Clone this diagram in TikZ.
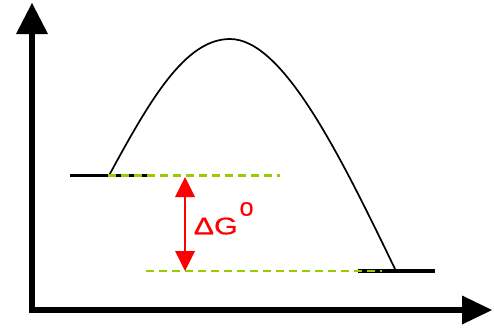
\documentclass[tikz,border=0pt]{standalone}
\usepackage{graphicx}
\usepackage{fontspec}
\setmainfont{Liberation Sans}
\newfontfamily\dglabelfont[FakeBold=0.6]{Liberation Sans}
\definecolor{dashgreen}{RGB}{153,204,0}
\definecolor{dgred}{RGB}{255,0,0}
\begin{document}
\begin{tikzpicture}[x=1pt,y=-1pt,
  axisline/.style={line width=5.5pt,black},
  axishead/.style={fill=black,draw=none},
  levelline/.style={line width=3.2pt,black},
  leveldash/.style={line width=2.2pt,dashgreen,dash pattern=on 8pt off 5pt},
  pathcurve/.style={line width=1.7pt,black},
  redline/.style={line width=2.2pt,dgred},
  redhead/.style={fill=dgred,draw=none},
  labeltext/.style={text=dgred,inner sep=0pt,font=\dglabelfont\fontsize{24}{24}\selectfont}]
\useasboundingbox (0,0) rectangle (494,327);
% axes
\coordinate (ytop) at (32,30);
\coordinate (xend) at (464,310);
\draw[axisline] (32,312.75) -- (ytop);
\draw[axisline] (29.25,310) -- (xend);
\fill[axishead] (32,3) -- (16,34) -- (48,34) -- cycle;
\fill[axishead] (492,310) -- (462,295.5) -- (462,324.5) -- cycle;
% energy levels
\coordinate (l1) at (70,175.5);
\coordinate (l2) at (147,175.5);
\coordinate (r1) at (358,271);
\coordinate (r2) at (435,271);
\draw[levelline] (l1) -- (l2);
\draw[levelline] (r1) -- (r2);
% reaction path
\coordinate (s) at (109,175.5);
\coordinate (peak) at (230,39);
\coordinate (e) at (396,271);
\draw[pathcurve] (s) .. controls (150,100) and (185,39) .. (peak)
  .. controls (283,39) and (340,155) .. (e);
% dashed guides
\coordinate (d1a) at (108,175.5);
\coordinate (d1b) at (280,175.5);
\coordinate (d2a) at (146,271);
\coordinate (d2b) at (382,271);
\draw[leveldash] (d1a) -- (d1b);
\draw[leveldash] (d2a) -- (d2b);
% delta G arrow
\coordinate (at) at (185,177);
\coordinate (ab) at (185,271);
\draw[redline] (185,195) -- (185,253);
\fill[redhead] (at) -- (175,197) -- (195,197) -- cycle;
\fill[redhead] (ab) -- (175,251) -- (195,251) -- cycle;
\node[labeltext,anchor=base west] (dg) at (193.5,234.3) {\scalebox{1.27}[1]{ΔG\hspace{1.5pt}{\fontsize{19.5}{19.5}\selectfont\raisebox{18.6pt}{0}}}};
\end{tikzpicture}
\end{document}
